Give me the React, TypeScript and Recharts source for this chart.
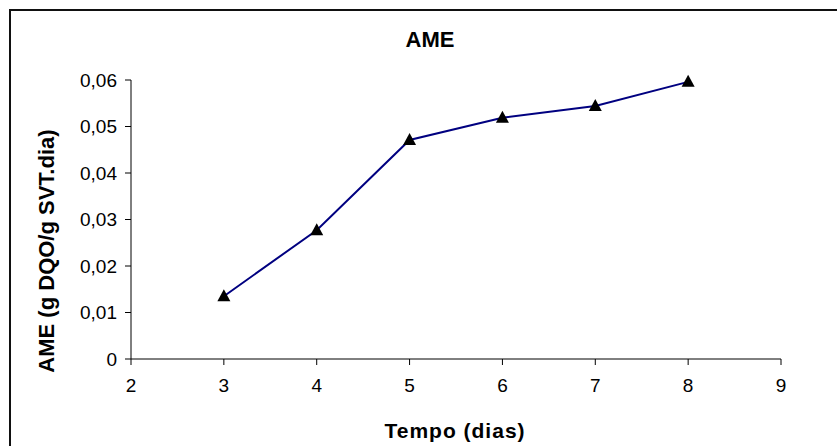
import React from "react"
import { LineChart, Line, XAxis, YAxis } from "recharts"

const dias = [3, 4, 5, 6, 7, 8]
const ame = [0.0135, 0.0277, 0.0471, 0.0519, 0.0544, 0.0596]
const xTicks = [2, 3, 4, 5, 6, 7, 8, 9]
const yTicks = [0, 0.01, 0.02, 0.03, 0.04, 0.05, 0.06]

const data = dias.map((d, i) => ({ dia: d, ame: ame[i] }))

const FONT = "'Liberation Sans', Arial, sans-serif"

function Triangle(props: any) {
  const { cx, cy, index } = props
  if (cx == null || cy == null) return null
  return (
    <polygon
      key={`tri-${index}`}
      points={`${cx},${cy - 7} ${cx - 6.5},${cy + 5} ${cx + 6.5},${cy + 5}`}
      fill="#000"
    />
  )
}

const fmtY = (v: number) => (v === 0 ? "0" : v.toFixed(2).replace(".", ","))

export default function App() {
  return (
    <div style={{ position: "absolute", left: 0, top: 0, width: 837, height: 446, overflow: "hidden", background: "#fff", fontFamily: FONT }}>
      <div style={{ position: "absolute", left: 9, top: 9, width: 900, height: 500, border: "2px solid #111", boxSizing: "border-box" }} />
      <LineChart
        width={837}
        height={446}
        data={data}
        margin={{ top: 80, right: 56, bottom: 57, left: 71 }}
      >
        <XAxis
          dataKey="dia"
          type="number"
          domain={[2, 9]}
          ticks={xTicks}
          allowDecimals={false}
          tickSize={6}
          tickMargin={14}
          height={30}
          stroke="#000"
          tick={{ fill: "#000", fontSize: 19, fontFamily: FONT }}
        />
        <YAxis
          type="number"
          domain={[0, 0.06]}
          ticks={yTicks}
          tickFormatter={fmtY}
          tickSize={6}
          tickMargin={8}
          width={60}
          stroke="#000"
          tick={{ fill: "#000", fontSize: 19, fontFamily: FONT }}
        />
        <Line
          type="linear"
          dataKey="ame"
          stroke="#000080"
          strokeWidth={2}
          dot={<Triangle />}
          activeDot={false}
          isAnimationActive={false}
        />
      </LineChart>
      <div style={{ position: "absolute", left: 330, top: 26, width: 200, textAlign: "center", fontSize: 22, fontWeight: "bold", lineHeight: "28px" }}>
        AME
      </div>
      <div style={{ position: "absolute", left: 305, top: 417, width: 300, textAlign: "center", fontSize: 21, fontWeight: "bold", letterSpacing: 1, lineHeight: "28px" }}>
        Tempo (dias)
      </div>
      <div
        style={{
          position: "absolute",
          left: 47 - 150,
          top: 251 - 14,
          width: 300,
          textAlign: "center",
          fontSize: 22,
          fontWeight: "bold",
          lineHeight: "28px",
          transform: "rotate(-90deg)",
          transformOrigin: "150px 14px",
        }}
      >
        AME (g DQO/g SVT.dia)
      </div>
    </div>
  )
}
